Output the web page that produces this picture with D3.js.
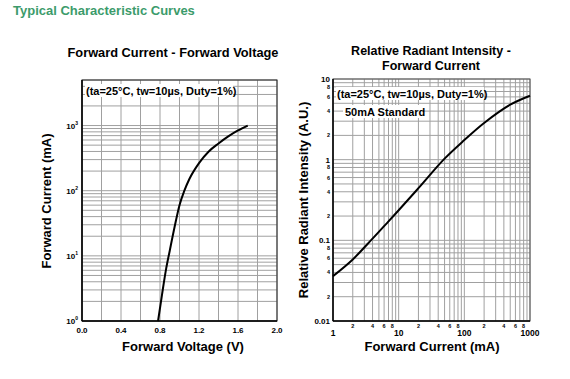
<!DOCTYPE html>
<html>
<head>
<meta charset="utf-8">
<script src="https://cdn.jsdelivr.net/npm/d3@7"></script>
<style>
  body { margin: 0; background: #fff; }
  svg { font-family: "Liberation Sans", Arial, sans-serif; }
</style>
</head>
<body>
<div id="chart"></div>
<script>
const width = 570;
const height = 379;

// Forward current vs forward voltage
const fvVoltage = [0.78, 0.82, 0.86, 0.90, 0.95, 1.00, 1.05, 1.10, 1.20, 1.30, 1.40, 1.50, 1.60, 1.70];
const fvCurrent = [1, 2.5, 6, 12, 28, 60, 100, 150, 265, 400, 530, 680, 840, 1000];
const fvXTicks = [0, 0.4, 0.8, 1.2, 1.6, 2.0];
const fvYTicks = [1, 10, 100, 1000];

// Relative radiant intensity vs forward current
const riCurrent = [1, 2, 4, 7, 10, 20, 50, 100, 200, 500, 1000];
const riIntensity = [0.036, 0.058, 0.105, 0.172, 0.236, 0.443, 1.03, 1.75, 2.85, 4.8, 6.2];
const riMajorX = [1, 10, 100, 1000];
const riMajorY = [0.01, 0.1, 1, 10];
const riMinorLabels = [2, 4, 6, 8];

const svg = d3.select("#chart")
    .append("svg")
    .attr("width", width)
    .attr("height", height);

svg.append("text")
    .attr("x", 13).attr("y", 15)
    .attr("font-size", 13).attr("font-weight", "bold")
    .attr("fill", "#3c9b6b")
    .text("Typical Characteristic Curves");

// minor values for log grids
function logGrid(lo, hi) {
    const out = [];
    for (let d = lo; d < hi * 1.0001; d *= 10) {
        for (let k = 1; k <= 9; k++) {
            const v = d * k;
            if (v <= hi * 1.0001) out.push(v);
        }
    }
    return out;
}

// ---------- left chart ----------
const L = { x0: 82, x1: 277, y0: 80, y1: 321 };
const xL = d3.scaleLinear().domain([0, 2]).range([L.x0, L.x1]);
const yL = d3.scaleLog().domain([1, 5000]).range([L.y1, L.y0]);

const gL = svg.append("g");

gL.selectAll(".vg")
    .data(d3.range(0, 2.01, 0.2))
    .enter().append("line")
    .attr("x1", d => xL(d)).attr("x2", d => xL(d))
    .attr("y1", L.y0).attr("y2", L.y1)
    .attr("stroke", "#a0a0a0").attr("stroke-width", 1);

gL.selectAll(".hg")
    .data(logGrid(1, 5000))
    .enter().append("line")
    .attr("x1", L.x0).attr("x2", L.x1)
    .attr("y1", d => yL(d)).attr("y2", d => yL(d))
    .attr("stroke", "#a0a0a0").attr("stroke-width", 1);

gL.append("rect")
    .attr("x", L.x0).attr("y", L.y0)
    .attr("width", L.x1 - L.x0).attr("height", L.y1 - L.y0)
    .attr("fill", "none").attr("stroke", "#222").attr("stroke-width", 1);
gL.append("line")
    .attr("x1", L.x0).attr("x2", L.x0).attr("y1", L.y0).attr("y2", L.y1)
    .attr("stroke", "#000").attr("stroke-width", 1.5);
gL.append("line")
    .attr("x1", L.x0).attr("x2", L.x1).attr("y1", L.y1).attr("y2", L.y1)
    .attr("stroke", "#000").attr("stroke-width", 1.5);

// annotation with white background
gL.append("rect")
    .attr("x", 85).attr("y", 84).attr("width", 148).attr("height", 13)
    .attr("fill", "#fff");
gL.append("text")
    .attr("x", 86).attr("y", 95)
    .attr("font-size", 11).attr("font-weight", "bold")
    .text("(ta=25°C, tw=10µs, Duty=1%)");

const fvData = fvVoltage.map((v, i) => [v, fvCurrent[i]]);
gL.append("path")
    .datum(fvData)
    .attr("fill", "none").attr("stroke", "#000").attr("stroke-width", 2)
    .attr("d", d3.line().x(d => xL(d[0])).y(d => yL(d[1])).curve(d3.curveMonotoneX));

gL.selectAll(".xl")
    .data(fvXTicks)
    .enter().append("text")
    .attr("x", d => xL(d)).attr("y", 333)
    .attr("text-anchor", "middle")
    .attr("font-size", 8).attr("font-weight", "bold")
    .text(d => d.toFixed(1));

const yLab = gL.selectAll(".yl")
    .data(fvYTicks)
    .enter().append("text")
    .attr("x", 78).attr("y", d => yL(d) + 3)
    .attr("text-anchor", "end")
    .attr("font-size", 8).attr("font-weight", "bold");
yLab.append("tspan").text("10");
yLab.append("tspan").attr("font-size", 5).attr("dy", -4)
    .text(d => Math.round(Math.log10(d)));

gL.append("text")
    .attr("x", 173).attr("y", 57)
    .attr("text-anchor", "middle")
    .attr("font-size", 12.8).attr("font-weight", "bold")
    .text("Forward Current - Forward Voltage");

gL.append("text")
    .attr("x", 183).attr("y", 351)
    .attr("text-anchor", "middle")
    .attr("font-size", 13).attr("font-weight", "bold")
    .text("Forward Voltage (V)");

gL.append("text")
    .attr("transform", "translate(51,201) rotate(-90)")
    .attr("text-anchor", "middle")
    .attr("font-size", 13).attr("font-weight", "bold")
    .text("Forward Current (mA)");

// ---------- right chart ----------
const R = { x0: 333, x1: 530, y0: 79, y1: 321 };
const xR = d3.scaleLog().domain([1, 1000]).range([R.x0, R.x1]);
const yR = d3.scaleLog().domain([0.01, 10]).range([R.y1, R.y0]);

const gR = svg.append("g");

gR.selectAll(".vg")
    .data(logGrid(1, 1000))
    .enter().append("line")
    .attr("x1", d => xR(d)).attr("x2", d => xR(d))
    .attr("y1", R.y0).attr("y2", R.y1)
    .attr("stroke", "#a0a0a0").attr("stroke-width", 1);

gR.selectAll(".hg")
    .data(logGrid(0.01, 10))
    .enter().append("line")
    .attr("x1", R.x0).attr("x2", R.x1)
    .attr("y1", d => yR(d)).attr("y2", d => yR(d))
    .attr("stroke", "#a0a0a0").attr("stroke-width", 1);

gR.append("rect")
    .attr("x", R.x0).attr("y", R.y0)
    .attr("width", R.x1 - R.x0).attr("height", R.y1 - R.y0)
    .attr("fill", "none").attr("stroke", "#555").attr("stroke-width", 1);
gR.append("line")
    .attr("x1", R.x0).attr("x2", R.x0).attr("y1", R.y0).attr("y2", R.y1)
    .attr("stroke", "#000").attr("stroke-width", 1.5);
gR.append("line")
    .attr("x1", R.x0).attr("x2", R.x1).attr("y1", R.y1).attr("y2", R.y1)
    .attr("stroke", "#000").attr("stroke-width", 1.5);

gR.append("rect")
    .attr("x", 336).attr("y", 87).attr("width", 148).attr("height", 13)
    .attr("fill", "#fff");
gR.append("text")
    .attr("x", 337).attr("y", 98)
    .attr("font-size", 11).attr("font-weight", "bold")
    .text("(ta=25°C, tw=10µs, Duty=1%)");
gR.append("rect")
    .attr("x", 343).attr("y", 105).attr("width", 80).attr("height", 13)
    .attr("fill", "#fff");
gR.append("text")
    .attr("x", 345).attr("y", 116)
    .attr("font-size", 11).attr("font-weight", "bold")
    .text("50mA Standard");

const riData = riCurrent.map((c, i) => [c, riIntensity[i]]);
gR.append("path")
    .datum(riData)
    .attr("fill", "none").attr("stroke", "#000").attr("stroke-width", 2)
    .attr("d", d3.line().x(d => xR(d[0])).y(d => yR(d[1])).curve(d3.curveCatmullRom.alpha(0.5)));

// x labels
gR.selectAll(".xmaj")
    .data(riMajorX)
    .enter().append("text")
    .attr("x", d => xR(d)).attr("y", 336)
    .attr("text-anchor", "middle")
    .attr("font-size", 8.5).attr("font-weight", "bold")
    .text(d => d);
const minorX = riMajorX.slice(0, 3).flatMap(d => riMinorLabels.map(k => ({ v: d * k, k })));
gR.selectAll(".xmin")
    .data(minorX)
    .enter().append("text")
    .attr("x", d => xR(d.v)).attr("y", 328)
    .attr("text-anchor", "middle")
    .attr("font-size", 5.5).attr("font-weight", "bold")
    .text(d => d.k);

// y labels
gR.selectAll(".ymaj")
    .data(riMajorY)
    .enter().append("text")
    .attr("x", 330).attr("y", d => yR(d) + 3)
    .attr("text-anchor", "end")
    .attr("font-size", 8).attr("font-weight", "bold")
    .text(d => d);
const minorY = riMajorY.slice(0, 3).flatMap(d => riMinorLabels.map(k => ({ v: d * k, k })));
gR.selectAll(".ymin")
    .data(minorY)
    .enter().append("text")
    .attr("x", 330).attr("y", d => yR(d.v) + 2)
    .attr("text-anchor", "end")
    .attr("font-size", 5.5).attr("font-weight", "bold")
    .text(d => d.k);

gR.append("text")
    .attr("x", 431).attr("y", 55)
    .attr("text-anchor", "middle")
    .attr("font-size", 12.5).attr("font-weight", "bold")
    .text("Relative Radiant Intensity -");
gR.append("text")
    .attr("x", 431).attr("y", 70)
    .attr("text-anchor", "middle")
    .attr("font-size", 12.5).attr("font-weight", "bold")
    .text("Forward Current");

gR.append("text")
    .attr("x", 432).attr("y", 351)
    .attr("text-anchor", "middle")
    .attr("font-size", 13).attr("font-weight", "bold")
    .text("Forward Current (mA)");

gR.append("text")
    .attr("transform", "translate(308,200) rotate(-90)")
    .attr("text-anchor", "middle")
    .attr("font-size", 13).attr("font-weight", "bold")
    .text("Relative Radiant Intensity (A.U.)");
</script>
</body>
</html>
